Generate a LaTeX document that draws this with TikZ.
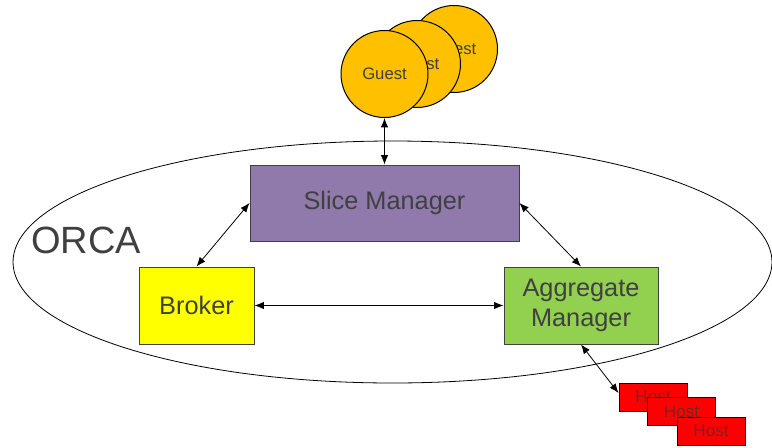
\documentclass[tikz,border=0pt]{standalone}
\usepackage{fontspec}
\setmainfont{Liberation Sans}
\usepackage{tikz}
\usetikzlibrary{arrows.meta,positioning,calc}

\definecolor{slicecol}{RGB}{143,122,171}
\definecolor{brokercol}{RGB}{255,255,0}
\definecolor{aggcol}{RGB}{146,208,80}
\definecolor{guestcol}{RGB}{255,192,0}
\definecolor{hostcol}{RGB}{255,0,0}
\definecolor{txtgray}{RGB}{64,64,64}
\definecolor{hosttxt}{RGB}{120,36,36}

\begin{document}
\begin{tikzpicture}[x=0.75pt,y=-0.75pt,>={Latex[length=7pt,width=5.5pt]},
  box/.style={draw=txtgray,line width=0.75pt,text=txtgray,font=\fontsize{19}{21}\selectfont,align=center,inner sep=0pt},
  guestnode/.style={draw=black,line width=0.75pt,circle,fill=guestcol,minimum size=65.25pt,inner sep=0pt,text=txtgray,font=\fontsize{12.5}{14}\selectfont},
  hostnode/.style={draw=black,line width=0.75pt,fill=hostcol,minimum width=51pt,minimum height=21pt,inner sep=0pt,text=hosttxt,font=\fontsize{12.8}{14}\selectfont},
  link/.style={<->,line width=0.6pt}]
  \useasboundingbox (0,0) rectangle (772,447);
  % ORCA boundary
  \draw[line width=0.6pt] (392.5,262) ellipse [x radius=284.6pt,y radius=90.75pt];
  \node[anchor=west,text=txtgray,font=\fontsize{28.5}{30}\selectfont,inner sep=0pt] (orca) at (31,240) {ORCA};
  % guests
  \node[guestnode] (g3) at (454,49) {Guest};
  \node[guestnode] (g2) at (417,64) {Guest};
  \node[guestnode] (g1) at (384.5,74) {Guest};
  % actors
  \node[box,fill=slicecol,minimum width=201.75pt,minimum height=57pt] (sm) at (384.5,203) {Slice Manager};
  \node[box,fill=brokercol,minimum width=86.25pt,minimum height=57.75pt] (broker) at (196.5,305.5) {Broker};
  \node[box,fill=aggcol,minimum width=115.5pt,minimum height=57.75pt] (am) at (581,305.5) {Aggregate\\[1.5pt]Manager};
  % hosts
  \node[hostnode] (h1) at (653,397) {Host};
  \node[hostnode] (h2) at (681.5,411.5) {Host};
  \node[hostnode] (h3) at (711,431) {Host};
  \draw[link] (g1) -- (sm);
  \draw[link] (broker.north) -- (sm.west);
  \draw[link] (sm.east) -- (am.north);
  \draw[link] (broker) -- (am);
  \draw[link] (am.south) -- ([yshift=3pt]h1.west);
\end{tikzpicture}
\end{document}
